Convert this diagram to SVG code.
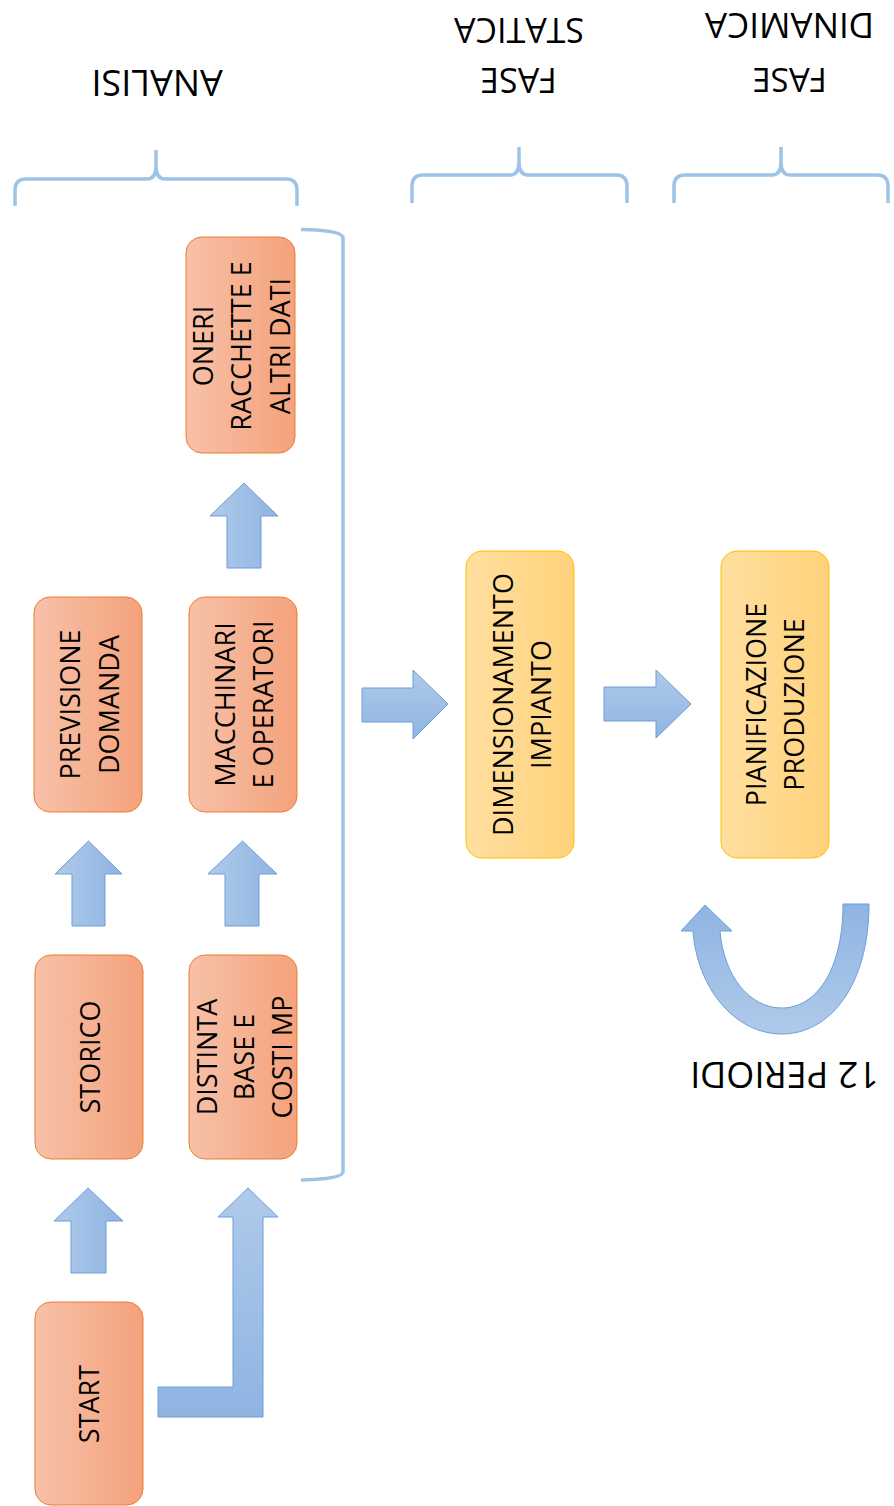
<svg xmlns="http://www.w3.org/2000/svg" width="894" height="1506" viewBox="0 0 894 1506">
<defs>
<linearGradient id="gOr" x1="0" y1="0" x2="1" y2="0"><stop offset="0" stop-color="#f7c1a8"/><stop offset="1" stop-color="#f4a27c"/></linearGradient>
<linearGradient id="gYe" x1="0" y1="0" x2="1" y2="0"><stop offset="0" stop-color="#ffdf9f"/><stop offset="1" stop-color="#ffd27c"/></linearGradient>
<linearGradient id="gBh" x1="0" y1="0" x2="1" y2="0"><stop offset="0" stop-color="#afcaea"/><stop offset="1" stop-color="#8fb4e2"/></linearGradient>
<linearGradient id="gBv" x1="0" y1="0" x2="0" y2="1"><stop offset="0" stop-color="#afcaea"/><stop offset="1" stop-color="#8fb4e2"/></linearGradient>
<linearGradient id="gBu" x1="0" y1="0" x2="0" y2="1"><stop offset="0" stop-color="#8fb4e2"/><stop offset="1" stop-color="#afcaea"/></linearGradient>
</defs>
<style>
.box{fill:url(#gOr);stroke:#ed7d31;stroke-width:1}
.ybox{fill:url(#gYe);stroke:#ffc000;stroke-width:1}
.t{font-family:"Open Sans","DejaVu Sans",sans-serif;font-size:27px;fill:#000;text-anchor:middle}
.h{font-family:"Open Sans","DejaVu Sans",sans-serif;fill:#000;text-anchor:middle}
.br{fill:none;stroke:#9dc3e6;stroke-width:3.5;stroke-linejoin:round}
.aH{fill:url(#gBh);stroke:#6d9fd8;stroke-width:1}
.aV{fill:url(#gBv);stroke:#6d9fd8;stroke-width:1}
.aU{fill:url(#gBu);stroke:#6d9fd8;stroke-width:1}
</style>

<g id="headers">
<text class="h" font-size="36" transform="translate(157,70) rotate(180)">ANALISI</text>
<text class="h" font-size="34" transform="translate(519,18) rotate(180)">STATICA</text>
<text class="h" font-size="34" transform="translate(518.5,68) rotate(180)">FASE</text>
<text class="h" font-size="35" transform="translate(789.5,13) rotate(180)">DINAMICA</text>
<text class="h" font-size="33" transform="translate(789.5,68) rotate(180)">FASE</text>
<path class="br" d="M15 206 L15 190 Q15 179 26 179 L147 179 Q156 179 156 166 L156 150 M156 166 Q156 179 165 179 L286 179 Q297 179 297 190 L297 206"/>
<path class="br" d="M412 203 L412 186 Q412 175 423 175 L510 175 Q519 175 519 162 L519 147 M519 162 Q519 175 528 175 L616 175 Q627 175 627 186 L627 203"/>
<path class="br" d="M674 203 L674 186 Q674 175 685 175 L772 175 Q781 175 781 162 L781 147 M781 162 Q781 175 790 175 L877 175 Q888 175 888 186 L888 203"/>
<path class="br" d="M301 229.5 Q343 230 343 238 L343 1172 Q343 1179 301 1180"/>
</g>

<g id="connectors">
<path class="aH" d="M71 1273 L71 1221 L54 1221 L88 1188 L123 1221 L106 1221 L106 1273 Z"/>
<path class="aH" d="M72 926 L72 874 L55 874 L88.5 841 L122 874 L105 874 L105 926 Z"/>
<path class="aH" d="M225 926 L225 874 L208 874 L242.5 841 L277 874 L259 874 L259 926 Z"/>
<path class="aH" d="M227 568 L227 516 L210 516 L244 483 L278 516 L261 516 L261 568 Z"/>
<path class="aV" d="M158 1417 L158 1387 L233 1387 L233 1217 L218 1217 L248 1188 L278 1217 L263 1217 L263 1417 Z"/>
<path class="aV" d="M362 688 L413 688 L413 670 L448 704 L413 739 L413 722 L362 722 Z"/>
<path class="aV" d="M604 687 L656 687 L656 670 L691 704 L656 738 L656 721 L604 721 Z"/>
<path class="aU" d="M869 904 C869 985 830 1034 782 1034 C734 1034 697 987 693 931 L681 931 L705 905 L732 931 L720 931 C724 977 750 1008 782 1008 C815 1008 843 972 843 904 Z"/>
<text class="h" font-size="36" transform="translate(784.5,1062) rotate(180)">12 PERIODI</text>
</g>

<g id="node-oneri">
<rect class="box" x="186" y="237" width="109" height="216" rx="16"/>
<text class="t" transform="translate(213,346) rotate(-90)">ONERI</text>
<text class="t" transform="translate(251,346) rotate(-90)">RACCHETTE E</text>
<text class="t" transform="translate(290,346) rotate(-90)">ALTRI DATI</text>
</g>
<g id="node-previsione">
<rect class="box" x="34" y="597" width="108" height="215" rx="16"/>
<text class="t" transform="translate(80,704.5) rotate(-90)">PREVISIONE</text>
<text class="t" transform="translate(119,704.5) rotate(-90)">DOMANDA</text>
</g>
<g id="node-macchinari">
<rect class="box" x="189" y="597" width="108" height="215" rx="16"/>
<text class="t" transform="translate(235,704.5) rotate(-90)">MACCHINARI</text>
<text class="t" transform="translate(273,704.5) rotate(-90)">E OPERATORI</text>
</g>
<g id="node-storico">
<rect class="box" x="35" y="955" width="108" height="204" rx="16"/>
<text class="t" transform="translate(100,1057) rotate(-90)">STORICO</text>
</g>
<g id="node-distinta">
<rect class="box" x="189" y="955" width="108" height="204" rx="16"/>
<text class="t" transform="translate(217,1057) rotate(-90)">DISTINTA</text>
<text class="t" transform="translate(254,1057) rotate(-90)">BASE E</text>
<text class="t" transform="translate(292,1057) rotate(-90)">COSTI MP</text>
</g>
<g id="node-start">
<rect class="box" x="35" y="1302" width="108" height="203" rx="16"/>
<text class="t" transform="translate(99,1404) rotate(-90)">START</text>
</g>
<g id="node-dimensionamento">
<rect class="ybox" x="466" y="551" width="108" height="307" rx="16"/>
<text class="t" transform="translate(513,704.5) rotate(-90)">DIMENSIONAMENTO</text>
<text class="t" transform="translate(551,704.5) rotate(-90)">IMPIANTO</text>
</g>
<g id="node-pianificazione">
<rect class="ybox" x="721" y="551" width="108" height="307" rx="16"/>
<text class="t" transform="translate(766,704.5) rotate(-90)">PIANIFICAZIONE</text>
<text class="t" transform="translate(804,704.5) rotate(-90)">PRODUZIONE</text>
</g>
</svg>
